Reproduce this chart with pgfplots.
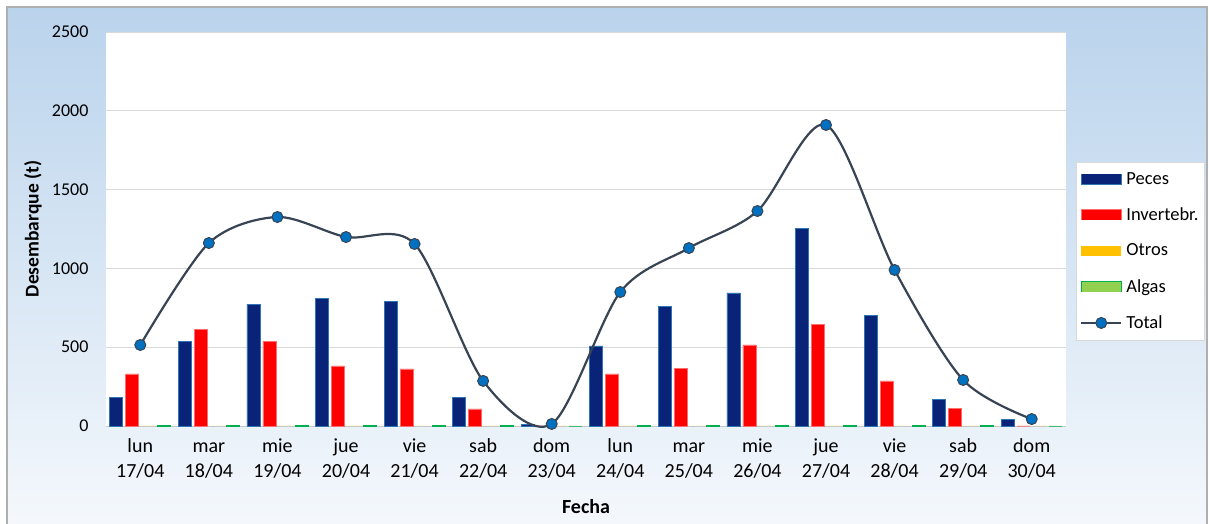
\documentclass[border=0pt]{standalone}
\usepackage{pgfplots}
\pgfplotsset{compat=1.18}
\usepackage{pgfplotstable}
\usepackage{fontspec}
\setmainfont{Carlito}
\definecolor{peces}{RGB}{8,35,120}
\definecolor{pecesedge}{RGB}{46,117,182}
\definecolor{invert}{RGB}{255,0,0}
\definecolor{invertedge}{RGB}{255,110,110}
\definecolor{otros}{RGB}{255,192,0}
\definecolor{algas}{RGB}{146,208,80}
\definecolor{algasedge}{RGB}{0,176,80}
\definecolor{totline}{RGB}{56,68,84}
\definecolor{totmark}{RGB}{0,112,192}
\definecolor{bgtop}{RGB}{186,211,236}
\definecolor{bgbot}{RGB}{244,248,252}
\definecolor{gridc}{RGB}{217,217,217}
\definecolor{framec}{RGB}{175,175,175}
\definecolor{axc}{RGB}{200,200,200}

\pgfplotstableread{
x peces invert otros algas total
0 184 330 0 6 514
1 539 615 0 6 1161
2 774 539 0 6 1326
3 812 381 0 6 1199
4 793 362 0 6 1155
5 184 108 0 6 286
6 10 0 0 0 13
7 508 330 0 6 850
8 761 368 0 6 1129
9 844 514 0 6 1364
10 1256 647 0 6 1910
11 704 286 0 6 990
12 171 114 0 6 292
13 44 0 0 0 44
}\datatable

\newcommand{\tl}[2]{\strut #1\\\strut #2}

\begin{document}
\begin{tikzpicture}
\useasboundingbox (0pt,0pt) rectangle (1209pt,524pt);
\shade[top color=bgtop, bottom color=bgbot] (7pt,0pt) rectangle (1207pt,517pt);
\draw[framec, line width=1.2pt] (7pt,-5pt) rectangle (1207pt,517pt);
\begin{axis}[
  at={(106pt,98pt)}, anchor=south west,
  scale only axis, width=960pt, height=394pt,
  xmin=-0.5, xmax=13.5, ymin=0, ymax=2500,
  clip=false,
  axis background/.style={fill=white},
  axis x line*=bottom,
  x axis line style={draw=axc, line width=0.8pt},
  y axis line style={draw=none},
  ytick={0,500,...,2500},
  ymajorgrids, grid style={gridc, line width=0.8pt},
  ytick style={draw=none},
  xtick={0,...,13},
  xtick style={draw=none},
  xticklabels={{\tl{lun}{17/04}},{\tl{mar}{18/04}},{\tl{mie}{19/04}},{\tl{jue}{20/04}},{\tl{vie}{21/04}},{\tl{sab}{22/04}},{\tl{dom}{23/04}},{\tl{lun}{24/04}},{\tl{mar}{25/04}},{\tl{mie}{26/04}},{\tl{jue}{27/04}},{\tl{vie}{28/04}},{\tl{sab}{29/04}},{\tl{dom}{30/04}}},
  xticklabel style={align=center, font=\fontsize{20}{24.5}\selectfont, yshift=-6pt},
  yticklabel style={font=\fontsize{18}{22}\selectfont, xshift=-14pt},
  /pgf/number format/assume math mode=true,
  /pgf/number format/1000 sep={},
  extra x ticks={-0.5,0.5,...,13.5},
  extra x tick labels={},
  extra x tick style={grid=none, major tick length=7pt, tick align=outside, tick style={draw=axc, line width=0.8pt}},
  ylabel={\bfseries Desembarque (t)},
  xlabel={\bfseries Fecha},
  every axis y label/.style={at={(axis description cs:-0.076,0.5)}, rotate=90, anchor=center, font=\fontsize{19.5}{22}\selectfont},
  every axis x label/.style={at={(axis description cs:0.5,-0.2056)}, anchor=center, font=\fontsize{20}{22}\selectfont},
  legend style={at={(axis description cs:1.0104,0.67)}, anchor=north west,
    draw=gridc, fill=white, font=\fontsize{18.5}{22}\selectfont,
    inner xsep=4pt, inner ysep=8pt, row sep=18pt, cells={anchor=west},
    /tikz/every odd column/.append style={column sep=2pt}},
]
\addplot[ybar, bar width=13pt, bar shift=-24pt, fill=peces, draw=pecesedge, line width=0.6pt,
  legend image code/.code={\fill[pecesedge] (0pt,-5pt) rectangle (40pt,5pt); \fill[peces] (0.8pt,-4.2pt) rectangle (39.2pt,4.2pt);}]
  table[x=x,y=peces]{\datatable};
\addlegendentry{Peces}
\addplot[ybar, bar width=13pt, bar shift=-8pt, fill=invert, draw=invertedge, line width=0.6pt,
  legend image code/.code={\fill[invertedge] (0pt,-5pt) rectangle (40pt,5pt); \fill[invert] (0.8pt,-4.2pt) rectangle (39.2pt,4.2pt);}]
  table[x=x,y=invert]{\datatable};
\addlegendentry{Invertebr.}
\addplot[ybar, bar width=13pt, bar shift=8pt, fill=otros, draw=none,
  legend image code/.code={\fill[otros] (0pt,-5pt) rectangle (40pt,5pt);}]
  table[x=x,y=otros]{\datatable};
\addlegendentry{Otros}
\addplot[ybar, bar width=13pt, bar shift=24pt, fill=algas, draw=algasedge, line width=0.6pt,
  legend image code/.code={\fill[algasedge] (0pt,-5pt) rectangle (40pt,5pt); \fill[algas] (0.8pt,-4.2pt) rectangle (39.2pt,4.2pt);}]
  table[x=x,y=algas]{\datatable};
\addlegendentry{Algas}
\addplot[smooth, color=totline, line width=2.2pt, mark=*, mark size=5.5pt,
  mark options={fill=totmark, draw=totline, line width=1pt},
  legend image code/.code={\draw[totline, line width=2.2pt] (0pt,0pt) -- (40pt,0pt); \filldraw[fill=totmark, draw=totline, line width=1pt] (20pt,0pt) circle (5.5pt);}]
  table[x=x,y=total]{\datatable};
\addlegendentry{Total}
\end{axis}
\end{tikzpicture}
\end{document}
